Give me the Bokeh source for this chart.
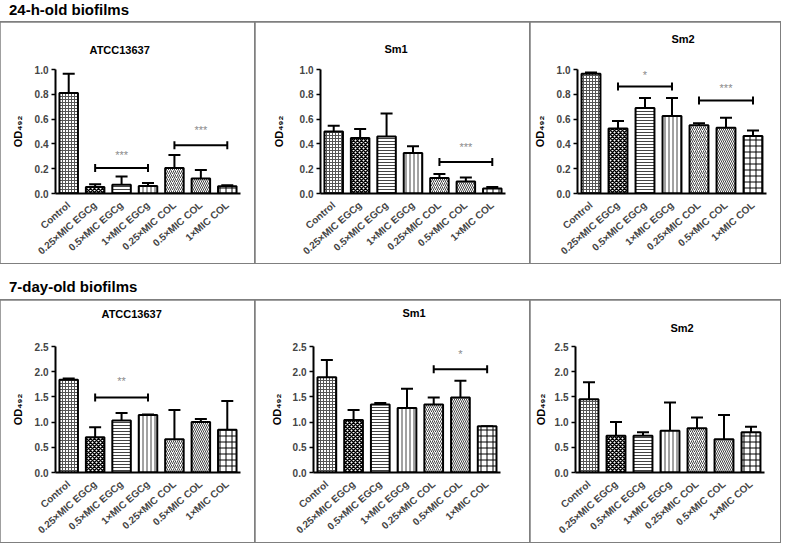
from math import pi
from bokeh.plotting import figure
from bokeh.layouts import column, row
from bokeh.models import (Div, FactorRange, Range1d, Whisker, TeeHead, ColumnDataSource,
                          FixedTicker, PrintfTickFormatter, Title)
from bokeh.embed import file_html
from bokeh.resources import INLINE
from bokeh.core.properties import value

# ---------------- data ----------------
categories = ["Control", "0.25×MIC EGCg", "0.5×MIC EGCg", "1×MIC EGCg",
              "0.25×MIC COL", "0.5×MIC COL", "1×MIC COL"]

section_titles = ["24-h-old biofilms", "7-day-old biofilms"]
strain_titles = ["ATCC13637", "Sm1", "Sm2"]
y_label = "OD₄₉₂"

# 24-h-old biofilms (OD492 mean, error)
h24_atcc_mean = [0.81, 0.053, 0.071, 0.060, 0.206, 0.120, 0.058]
h24_atcc_err = [0.155, 0.021, 0.067, 0.025, 0.104, 0.070, 0.008]
h24_sm1_mean = [0.50, 0.447, 0.46, 0.326, 0.126, 0.097, 0.040]
h24_sm1_err = [0.047, 0.073, 0.185, 0.055, 0.032, 0.033, 0.013]
h24_sm2_mean = [0.965, 0.524, 0.69, 0.624, 0.55, 0.53, 0.463]
h24_sm2_err = [0.010, 0.061, 0.08, 0.146, 0.016, 0.08, 0.045]

# 7-day-old biofilms
d7_atcc_mean = [1.84, 0.70, 1.03, 1.14, 0.66, 1.00, 0.85]
d7_atcc_err = [0.025, 0.20, 0.15, 0.01, 0.58, 0.06, 0.57]
d7_sm1_mean = [1.89, 1.04, 1.35, 1.28, 1.35, 1.49, 0.92]
d7_sm1_err = [0.34, 0.20, 0.03, 0.38, 0.14, 0.33, 0.0]
d7_sm2_mean = [1.455, 0.73, 0.73, 0.83, 0.88, 0.66, 0.80]
d7_sm2_err = [0.335, 0.27, 0.07, 0.56, 0.21, 0.48, 0.11]

# significance brackets: (start, end, bracket y, star y, stars)
h24_atcc_sig = [("0.25×MIC EGCg", "1×MIC EGCg", 0.206, 0.33, "***"),
                ("0.25×MIC COL", "1×MIC COL", 0.39, 0.53, "***")]
h24_sm1_sig = [("0.25×MIC COL", "1×MIC COL", 0.255, 0.39, "***")]
h24_sm2_sig = [("0.25×MIC EGCg", "1×MIC EGCg", 0.862, 0.97, "*"),
               ("0.25×MIC COL", "1×MIC COL", 0.75, 0.87, "***")]
d7_atcc_sig = [("0.25×MIC EGCg", "1×MIC EGCg", 1.49, 1.86, "**")]
d7_sm1_sig = [("0.25×MIC COL", "1×MIC COL", 2.05, 2.40, "*")]
d7_sm2_sig = []

y_ticks_24h = [0.0, 0.2, 0.4, 0.6, 0.8, 1.0]
y_ticks_7d = [0.0, 0.5, 1.0, 1.5, 2.0, 2.5]

# ---------------- styles ----------------
hatch_patterns = ["cross", "diagonal_cross", "horizontal_line", "vertical_line",
                  "right_diagonal_line", "left_diagonal_line", "cross"]
hatch_scales = [3, 4, 3, 4, 4, 4, 6]
hatch_weights = [1, 1.5, 1, 1, 1, 1, 1]
hatch_colors = ["#555555", "black", "#444444", "#444444", "#444444", "#444444", "black"]

FONT = "Liberation Sans"
BOX = "#7f7f7f"


def centre_of(a, b):
    return categories[(categories.index(a) + categories.index(b)) // 2]


def make_panel(title, means, errs, sig, ymax, yticks, width, height, mb, title_dx, title_gap,
               ylab_standoff):
    left, right, top, bottom = mb
    p = figure(width=width, height=height, x_range=FactorRange(factors=categories),
               y_range=Range1d(0, ymax), output_backend="svg", toolbar_location=None,
               min_border_left=left, min_border_right=right, min_border_top=top,
               min_border_bottom=bottom, background_fill_color="white",
               border_fill_color="white",
               styles={"outline": "2px solid " + BOX, "outline-offset": "-1px"})
    p.outline_line_color = None
    p.grid.visible = False

    # spacer between frame and the title, then the title itself
    p.add_layout(Title(text=" ", text_font_size="2px", standoff=title_gap), "above")
    p.add_layout(Title(text=title, align="left", vertical_align="middle", offset=title_dx,
                       standoff=0, text_font=FONT, text_font_size="11px",
                       text_font_style="bold", text_color="black"), "above")

    upper = [m + e for m, e in zip(means, errs)]
    src = ColumnDataSource(dict(cat=categories, mean=means, upper=upper,
                                hatch=hatch_patterns, hs=hatch_scales, hw=hatch_weights,
                                hc=hatch_colors))
    w = Whisker(source=src, base="cat", upper="upper", lower="mean", line_width=2,
                line_color="black", lower_head=None,
                upper_head=TeeHead(size=12, line_width=2, line_color="black"))
    p.add_layout(w)
    p.vbar(x="cat", top="mean", width=0.7, source=src, fill_color="white",
           line_color="black", line_width=2, hatch_pattern="hatch", hatch_scale="hs",
           hatch_weight="hw", hatch_color="hc")

    if sig:
        x0 = [s[0] for s in sig]
        x1 = [s[1] for s in sig]
        yb = [s[2] for s in sig]
        ys = [s[3] for s in sig]
        st = [s[4] for s in sig]
        mid = [centre_of(a, b) for a, b in zip(x0, x1)]
        p.segment(x0=x0, x1=x1, y0=yb, y1=yb, line_color="black", line_width=2)
        p.scatter(x=x0 + x1, y=yb + yb, marker="dash", angle=pi / 2, size=8,
                  line_color="black", line_width=2)
        p.text(x=mid, y=ys, text=st, text_align="center", text_baseline="middle",
               text_color="#8a8a8a", text_font_size="11px", text_font=value(FONT),
               y_offset=2)

    # axes
    p.yaxis.ticker = FixedTicker(ticks=yticks)
    p.yaxis.formatter = PrintfTickFormatter(format="%.1f")
    p.yaxis.minor_tick_line_color = None
    p.yaxis.major_tick_in = 0
    p.yaxis.major_tick_out = 4
    p.yaxis.major_tick_line_width = 1.5
    p.yaxis.axis_line_width = 2
    p.yaxis.major_label_text_font = FONT
    p.yaxis.major_label_text_font_size = "10px"
    p.yaxis.major_label_text_font_style = "bold"
    p.yaxis.major_label_standoff = 3
    p.yaxis.axis_label = y_label
    p.yaxis.axis_label_text_font = FONT
    p.yaxis.axis_label_text_font_size = "11px"
    p.yaxis.axis_label_text_font_style = "bold"
    p.yaxis.axis_label_text_color = "black"
    p.yaxis.axis_label_standoff = ylab_standoff

    p.xaxis.major_tick_line_color = None
    p.xaxis.minor_tick_line_color = None
    p.xaxis.axis_line_width = 2
    p.xaxis.major_label_orientation = 0.72
    p.xaxis.major_label_text_font = FONT
    p.xaxis.major_label_text_font_size = "10px"
    p.xaxis.major_label_text_font_style = "bold"
    p.xaxis.major_label_standoff = 4
    return p


p1 = make_panel(strain_titles[0], h24_atcc_mean, h24_atcc_err, h24_atcc_sig, 1.0, y_ticks_24h,
                255, 241, (55, 15, 47, 68), 34, 9, 8)
p2 = make_panel(strain_titles[1], h24_sm1_mean, h24_sm1_err, h24_sm1_sig, 1.0, y_ticks_24h,
                275, 241, (65, 25, 45, 70), 64, 10, 12)
p3 = make_panel(strain_titles[2], h24_sm2_mean, h24_sm2_err, h24_sm2_sig, 1.0, y_ticks_24h,
                250, 241, (47, 14, 46, 69), 94, 20, 8)
p4 = make_panel(strain_titles[0], d7_atcc_mean, d7_atcc_err, d7_atcc_sig, 2.5, y_ticks_7d,
                255, 242, (55, 15, 46, 70), 46, 22, 8)
p5 = make_panel(strain_titles[1], d7_sm1_mean, d7_sm1_err, d7_sm1_sig, 2.5, y_ticks_7d,
                275, 242, (58, 30, 46, 70), 89, 23, 7)
p6 = make_panel(strain_titles[2], d7_sm2_mean, d7_sm2_err, d7_sm2_sig, 2.5, y_ticks_7d,
                250, 242, (45, 16, 46, 70), 95, 8, 5)

t_style = ("font-family:'Liberation Sans';font-weight:bold;font-size:15px;line-height:15px;"
           "white-space:nowrap;")
d1 = Div(text='<div style="%spadding-left:9px;padding-top:2px;">%s</div>' % (t_style, section_titles[0]),
         width=780, height=22, margin=(0, 0, 0, 0))
d2 = Div(text='<div style="%spadding-left:9px;padding-top:16px;">%s</div>' % (t_style, section_titles[1]),
         width=780, height=37, margin=(0, 0, 0, 0))

layout = column(d1, row(p1, p2, p3, spacing=0), d2, row(p4, p5, p6, spacing=0), spacing=0)

open("out.html", "w").write(file_html(layout, INLINE))
